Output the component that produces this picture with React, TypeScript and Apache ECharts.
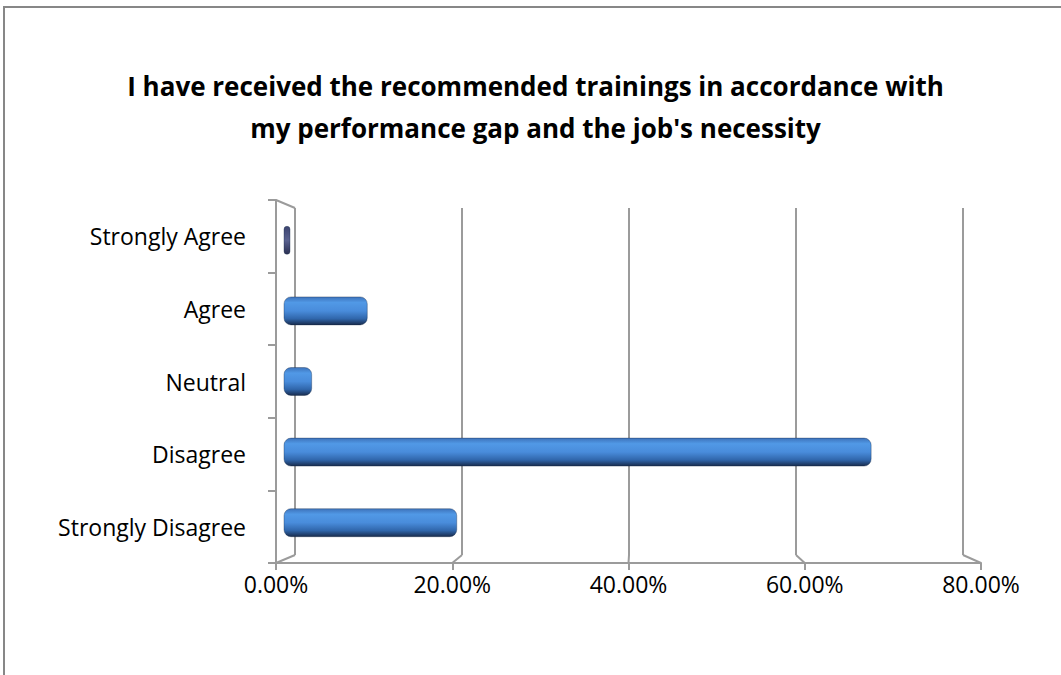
import React, { useEffect, useRef } from "react";
import * as echarts from "echarts";

const categories = ["Strongly Disagree", "Disagree", "Neutral", "Agree", "Strongly Agree"];
const percentages = [0.2, 0.677, 0.033, 0.097, 0];
const xTicks = [0, 0.2, 0.4, 0.6, 0.8];
const titleLines = [
  "I have received the recommended trainings in accordance with",
  "my performance gap and the job's necessity",
];

const W = 1061;
const H = 675;
const X_MAX = 0.8;
const FRONT = { left: 276, right: 981, top: 200, bottom: 563 };
const BACK = { left: 295, right: 963, top: 208, bottom: 555 };
const BARS = { left: 283.5, right: 978.5, top: 205, bottom: 558 };
const LINE = "#9b9b9b";
const FONT = "Open Sans";

function fmt(v: number) {
  return (v * 100).toFixed(2) + "%";
}

export default function App() {
  const ref = useRef<HTMLDivElement>(null);

  useEffect(() => {
    if (!ref.current) return;
    const chart = echarts.init(ref.current, undefined, { renderer: "svg" });

    const px = (g: { left: number; right: number }, v: number) =>
      g.left + (v / X_MAX) * (g.right - g.left);

    const edgeLines: any[] = xTicks.map((t) => ({
      type: "line",
      z: 1,
      shape: { x1: px(BACK, t), y1: BACK.bottom, x2: px(FRONT, t), y2: FRONT.bottom },
      style: { stroke: LINE, lineWidth: 2 },
    }));
    edgeLines.push({
      type: "line",
      z: 1,
      shape: { x1: FRONT.left, y1: FRONT.top, x2: BACK.left, y2: BACK.top },
      style: { stroke: LINE, lineWidth: 2 },
    });

    const barGradient = new echarts.graphic.LinearGradient(0, 0, 0, 1, [
      { offset: 0, color: "#3d72ba" },
      { offset: 0.2, color: "#5199e6" },
      { offset: 0.5, color: "#498cdb" },
      { offset: 0.78, color: "#3066ab" },
      { offset: 1, color: "#182b4c" },
    ]);
    const zeroGradient = new echarts.graphic.LinearGradient(0, 0, 0, 1, [
      { offset: 0, color: "#3c4470" },
      { offset: 0.5, color: "#5a6290" },
      { offset: 1, color: "#2a2f52" },
    ]);

    const barData = percentages.map((v) =>
      v === 0
        ? { value: v, itemStyle: { color: zeroGradient, borderRadius: 3.5 } }
        : { value: v }
    );

    chart.setOption({
      animation: false,
      backgroundColor: "#ffffff",
      title: {
        text: titleLines.join("\n"),
        left: W / 2,
        top: 60,
        textAlign: "center",
        textStyle: {
          fontFamily: FONT,
          fontSize: 26,
          fontWeight: "bold",
          color: "#000",
          lineHeight: 42,
        },
      },
      grid: [
        {
          left: FRONT.left,
          top: FRONT.top,
          width: FRONT.right - FRONT.left,
          height: FRONT.bottom - FRONT.top,
        },
        {
          left: BACK.left,
          top: BACK.top,
          width: BACK.right - BACK.left,
          height: BACK.bottom - BACK.top,
        },
        {
          left: BARS.left,
          top: BARS.top,
          width: BARS.right - BARS.left,
          height: BARS.bottom - BARS.top,
        },
      ],
      xAxis: [
        {
          gridIndex: 0,
          type: "value",
          min: 0,
          max: X_MAX,
          interval: 0.2,
          axisLine: { show: true, lineStyle: { color: LINE, width: 2 } },
          axisTick: { show: true, length: 7, lineStyle: { color: LINE, width: 2 } },
          axisLabel: {
            formatter: fmt,
            fontFamily: FONT,
            fontSize: 23,
            color: "#000",
            margin: 9,
          },
          splitLine: { show: false },
        },
        {
          gridIndex: 1,
          type: "value",
          min: 0,
          max: X_MAX,
          interval: 0.2,
          axisLine: { show: false },
          axisTick: { show: false },
          axisLabel: { show: false },
          splitLine: { show: true, lineStyle: { color: LINE, width: 2 } },
        },
        {
          gridIndex: 2,
          type: "value",
          min: 0,
          max: X_MAX,
          show: false,
          splitLine: { show: false },
        },
      ],
      yAxis: [
        {
          gridIndex: 0,
          type: "category",
          data: categories,
          axisLine: { show: true, lineStyle: { color: LINE, width: 2 } },
          axisTick: { show: true, length: 8, lineStyle: { color: LINE, width: 2 } },
          axisLabel: {
            fontFamily: FONT,
            fontSize: 23,
            color: "#000",
            margin: 30,
          },
          splitLine: { show: false },
        },
        {
          gridIndex: 1,
          type: "category",
          data: categories,
          show: false,
        },
        {
          gridIndex: 2,
          type: "category",
          data: categories,
          show: false,
        },
      ],
      series: [
        {
          type: "bar",
          xAxisIndex: 2,
          yAxisIndex: 2,
          data: barData,
          barWidth: 29,
          barMinHeight: 7,
          z: 5,
          itemStyle: {
            color: barGradient,
            borderRadius: 7,
            borderColor: "rgba(20,40,70,0.35)",
            borderWidth: 1,
          },
        },
      ],
      graphic: [
        ...edgeLines,
        {
          type: "line",
          z: 10,
          shape: { x1: 3, y1: 7, x2: W, y2: 7 },
          style: { stroke: "#878787", lineWidth: 2 },
        },
        {
          type: "line",
          z: 10,
          shape: { x1: 4, y1: 7, x2: 4, y2: H },
          style: { stroke: "#878787", lineWidth: 2 },
        },
      ],
    });

    return () => chart.dispose();
  }, []);

  return (
    <div
      ref={ref}
      style={{ position: "absolute", left: 0, top: 0, width: W, height: H }}
    />
  );
}
